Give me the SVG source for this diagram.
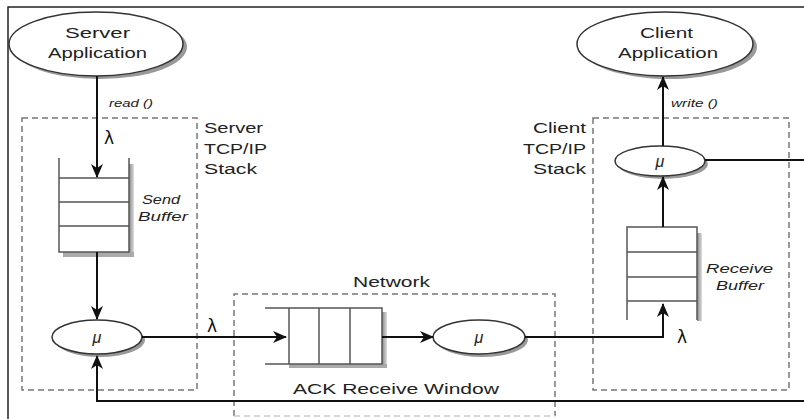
<svg xmlns="http://www.w3.org/2000/svg" width="804" height="419" viewBox="0 0 804 419">
<defs>
<marker id="ah" viewBox="0 0 14 12" refX="13" refY="6" markerWidth="14" markerHeight="12" markerUnits="userSpaceOnUse" orient="auto">
<path d="M0,0 L14,6 L0,12 L4,6 z" fill="#111"/>
</marker>
<linearGradient id="shv" x1="0" y1="0" x2="1" y2="0">
<stop offset="0" stop-color="#888"/><stop offset="1" stop-color="#ddd"/>
</linearGradient>
</defs>
<style>
.frame{fill:none;stroke:#222;stroke-width:1.5}
.box{fill:none;stroke:#777;stroke-width:1.5;stroke-dasharray:6 4}
.faint{fill:none;stroke:#ccc;stroke-width:1.5;stroke-dasharray:6 4}
.node{fill:#fff;stroke:#333;stroke-width:1.5}
.sh{fill:#999}
.q{stroke:#555;stroke-width:1.5;fill:none}
.c{fill:none;stroke:#111;stroke-width:2}
.t{font-family:"Liberation Sans",Arial,sans-serif;fill:#222}
.big{font-size:15.5px}
.lbl{font-size:15.5px}
.it{font-style:italic}
.bf{font-size:12.5px}
.sm{font-size:11.5px}
.mu{font-size:16px;font-style:italic}
.lam{font-family:"DejaVu Sans",sans-serif;font-size:17px;fill:#111}
</style>
<rect x="0" y="0" width="804" height="419" fill="#fff"/>
<path class="frame" d="M8,419 L8,7 L804,7"/>

<g id="server-stack">
<rect class="box" x="22" y="118" width="175" height="272"/>
<text class="t lbl" x="204" y="133" textLength="59" lengthAdjust="spacingAndGlyphs">Server</text>
<text class="t lbl" x="204" y="154" textLength="63" lengthAdjust="spacingAndGlyphs">TCP/IP</text>
<text class="t lbl" x="204" y="174" textLength="53" lengthAdjust="spacingAndGlyphs">Stack</text>
</g>
<g id="client-stack">
<rect class="box" x="593" y="118" width="196" height="272"/>
<text class="t lbl" x="533" y="133" textLength="53" lengthAdjust="spacingAndGlyphs">Client</text>
<text class="t lbl" x="523" y="154" textLength="63" lengthAdjust="spacingAndGlyphs">TCP/IP</text>
<text class="t lbl" x="533" y="174" textLength="53" lengthAdjust="spacingAndGlyphs">Stack</text>
</g>
<g id="network">
<path class="box" d="M234,416 V294 H555 V416"/>
<path class="faint" d="M234,416 H555"/>
<text class="t lbl" x="353" y="287" textLength="77" lengthAdjust="spacingAndGlyphs">Network</text>
<text class="t big" x="293" y="394" textLength="206" lengthAdjust="spacingAndGlyphs">ACK Receive Window</text>
</g>

<g id="server-app">
<ellipse class="sh" cx="100" cy="47" rx="87" ry="32"/>
<ellipse class="node" cx="96" cy="44" rx="87" ry="32"/>
<text class="t big" x="65" y="38" textLength="65" lengthAdjust="spacingAndGlyphs">Server</text>
<text class="t big" x="48" y="58" textLength="99" lengthAdjust="spacingAndGlyphs">Application</text>
</g>
<g id="client-app">
<ellipse class="sh" cx="669" cy="47" rx="88" ry="32"/>
<ellipse class="node" cx="665" cy="44" rx="88" ry="32"/>
<text class="t big" x="640" y="38" textLength="53" lengthAdjust="spacingAndGlyphs">Client</text>
<text class="t big" x="618" y="58" textLength="100" lengthAdjust="spacingAndGlyphs">Application</text>
</g>

<g id="send-buffer">
<rect x="129" y="164" width="5" height="93" fill="url(#shv)"/>
<rect x="63" y="252" width="71" height="5" fill="#aaa"/>
<rect x="59" y="178" width="70" height="74" fill="#fff"/>
<path class="q" d="M59,158 V252 H129 V158 M59,178 H129 M59,202 H129 M59,226 H129"/>
<text class="t it bf" x="142" y="204" textLength="38" lengthAdjust="spacingAndGlyphs">Send</text>
<text class="t it bf" x="138" y="221" textLength="50" lengthAdjust="spacingAndGlyphs">Buffer</text>
</g>

<g id="server-mu">
<ellipse class="sh" cx="100" cy="340" rx="45" ry="17"/>
<ellipse class="node" cx="97" cy="337" rx="45" ry="17"/>
<text class="t mu" x="97" y="343" text-anchor="middle">μ</text>
</g>

<g id="network-queue">
<rect x="382" y="312" width="5" height="56" fill="url(#shv)"/>
<rect x="289" y="364" width="98" height="4" fill="#aaa"/>
<rect x="289" y="308" width="93" height="56" fill="#fff"/>
<path class="q" d="M265,308 H382 V364 H265 M289,308 V364 M319,308 V364 M350,308 V364"/>
</g>

<g id="network-mu">
<ellipse class="sh" cx="482" cy="340" rx="46" ry="17"/>
<ellipse class="node" cx="479" cy="337" rx="46" ry="17"/>
<text class="t mu" x="479" y="343" text-anchor="middle">μ</text>
</g>

<g id="receive-buffer">
<rect x="697" y="233" width="5" height="88" fill="url(#shv)"/>
<rect x="627" y="227" width="70" height="74" fill="#fff"/>
<path class="q" d="M627,320 V227 H697 V320 M627,252 H697 M627,277 H697 M627,301 H697"/>
<text class="t it bf" x="706" y="273" textLength="67" lengthAdjust="spacingAndGlyphs">Receive</text>
<text class="t it bf" x="716" y="290" textLength="48" lengthAdjust="spacingAndGlyphs">Buffer</text>
</g>

<g id="client-mu">
<ellipse class="sh" cx="663" cy="164" rx="45" ry="15"/>
<ellipse class="node" cx="660" cy="161" rx="45" ry="15"/>
<text class="t mu" x="660" y="167" text-anchor="middle">μ</text>
</g>

<g id="connectors">
<path class="c" d="M97,76 V177" marker-end="url(#ah)"/>
<path class="c" d="M97,252 V319" marker-end="url(#ah)"/>
<path class="c" d="M142,337 H286" marker-end="url(#ah)"/>
<path class="c" d="M382,337 H433" marker-end="url(#ah)"/>
<path class="c" d="M525,337 H663 V304" marker-end="url(#ah)"/>
<path class="c" d="M663,227 V177" marker-end="url(#ah)"/>
<path class="c" d="M663,146 V77" marker-end="url(#ah)"/>
<path class="c" d="M705,160 H804"/>
<path class="c" d="M804,401 H97 V356" marker-end="url(#ah)"/>
<text class="t it sm" x="109" y="107" textLength="44" lengthAdjust="spacingAndGlyphs">read ()</text>
<text class="t it sm" x="671" y="107" textLength="47" lengthAdjust="spacingAndGlyphs">write ()</text>
<text class="lam" x="104" y="144">λ</text>
<text class="lam" x="207" y="332">λ</text>
<text class="lam" x="677" y="343">λ</text>
</g>
</svg>
